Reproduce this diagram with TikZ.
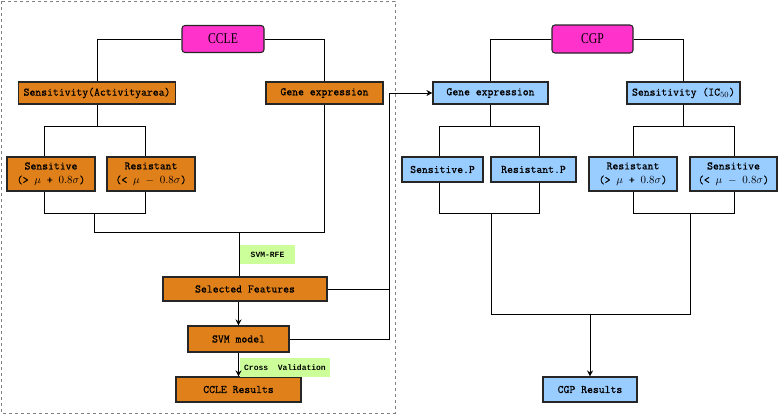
\documentclass[tikz,border=0pt]{standalone}
\usepackage{fontspec}
\setmainfont{Liberation Serif}
\newfontfamily\labfont{Liberation Mono}
\newfontfamily\boxfont{Latin Modern Mono}[FakeBold=0.7]
\usetikzlibrary{arrows.meta}
\definecolor{orangebox}{HTML}{E0801A}
\definecolor{bluebox}{HTML}{99CCFF}
\definecolor{magbox}{HTML}{FF33CC}
\definecolor{greenlab}{HTML}{CCFF99}
\tikzset{
  box/.style={draw=black!85, line width=1.1pt, inner sep=0pt, align=center,
    font=\boxfont\fontsize{11.4}{14}\selectfont},
  obox/.style={box, fill=orangebox},
  bbox/.style={box, fill=bluebox},
  top/.style={draw=black!85, line width=1.1pt, fill=magbox, rounded corners=3pt, inner sep=0pt,
    font=\fontsize{13}{15}\selectfont},
  lab/.style={fill=greenlab, inner sep=0pt, font=\labfont\bfseries\fontsize{8}{9}\selectfont},
  conn/.style={draw=black, line width=1pt},
  arr/.style={conn, -{Stealth[length=6pt,width=6pt]}},
}
\begin{document}
\begin{tikzpicture}[x=1pt,y=-1pt]
\useasboundingbox (0,0) rectangle (778,415);
\draw[gray, dashed, line width=1pt] (1,1) rectangle (395,413);
% ---------- CCLE side ----------
\node[top, minimum width=82pt, minimum height=27pt] (ccle) at (223,39) {\scalebox{0.9}[1.15]{CCLE}};
\node[obox, minimum width=157pt, minimum height=22pt] (sensA) at (97,93) {Sensitivity(Activityarea)};
\node[obox, minimum width=117pt, minimum height=22pt] (geneA) at (324.5,93) {Gene expression};
\node[obox, minimum width=88pt, minimum height=34pt] (sens1) at (51,174) {Sensitive\\(>\ $\mu$\ +\ $0.8\sigma$)};
\node[obox, minimum width=88pt, minimum height=34pt] (res1) at (151,174) {Resistant\\(<\ $\mu$\ $-$\ $0.8\sigma$)};
\node[obox, minimum width=164pt, minimum height=24pt] (sel) at (245,289) {Selected Features};
\node[obox, minimum width=101pt, minimum height=26pt] (svm) at (238.5,339) {SVM model};
\node[obox, minimum width=125pt, minimum height=25pt] (cres) at (238.5,389.5) {CCLE Results};
\node[lab, minimum width=55pt, minimum height=19pt] (rfe) at (267.5,254.5) {SVM-RFE};
\node[lab, minimum width=90pt, minimum height=19pt] (cv) at (285,367.5) {Cross\ \ Validation};

\draw[conn] (ccle.west) -| (sensA.north);
\draw[conn] (ccle.east) -| (geneA.north);
\coordinate (a1) at (44,126);
\coordinate (a2) at (145,126);
\coordinate (a3) at (44,213);
\coordinate (a4) at (145,213);
\coordinate (a5) at (94,213);
\coordinate (m) at (239,232);
\draw[conn] (sensA.south) -- (sensA.south |- a1);
\draw[conn] (a1 |- sens1.north) -- (a1) -- (a2) -- (a2 |- res1.north);
\draw[conn] (a3 |- sens1.south) -- (a3) -- (a4) -- (a4 |- res1.south);
\draw[conn] (a5) -- (a5 |- m) -- (geneA.south |- m) -- (geneA.south);
\draw[conn] (m) -- (m |- sel.north);
\draw[arr] (sel.south -| svm.north) -- (svm.north);
\draw[arr] (svm.south) -- (cres.north);
% link to CGP
\coordinate (r1) at (389,93);
\draw[conn] (sel.east) -- (sel.east -| r1);
% ---------- CGP side ----------
\node[top, minimum width=81pt, minimum height=28pt] (cgp) at (592.5,39) {\scalebox{0.9}[1.15]{CGP}};
\node[bbox, minimum width=115pt, minimum height=22pt] (geneB) at (490.5,93) {Gene expression};
\node[bbox, minimum width=113pt, minimum height=22pt] (sensB) at (683.5,93) {Sensitivity (IC$_{50}$)};
\node[bbox, minimum width=81pt, minimum height=25pt] (sp) at (442.5,169.5) {Sensitive.P};
\node[bbox, minimum width=85pt, minimum height=25pt] (rp) at (533.5,169.5) {Resistant.P};
\node[bbox, minimum width=88pt, minimum height=34pt] (rr) at (633,174) {Resistant\\(>\ $\mu$\ +\ $0.8\sigma$)};
\node[bbox, minimum width=87pt, minimum height=34pt] (ss) at (733.5,174) {Sensitive\\(<\ $\mu$\ $-$\ $0.8\sigma$)};
\node[bbox, minimum width=94pt, minimum height=25pt] (gres) at (590,389.5) {CGP Results};

\draw[arr] (svm.east) -| (r1) -- (geneB.west);

\draw[conn] (cgp.west) -| (geneB.north);
\draw[conn] (cgp.east) -| (sensB.north);
\coordinate (b1) at (439,126);
\coordinate (b2) at (539,126);
\coordinate (b3) at (633,126);
\coordinate (b4) at (734,126);
\coordinate (c1) at (439,213);
\coordinate (c2) at (539,213);
\coordinate (c3) at (633,213);
\coordinate (c4) at (734,213);
\coordinate (d1) at (491,213);
\coordinate (d2) at (690,213);
\coordinate (n) at (590,314);
\draw[conn] (geneB.south) -- (geneB.south |- b1);
\draw[conn] (sensB.south) -- (sensB.south |- b3);
\draw[conn] (b1 |- sp.north) -- (b1) -- (b2) -- (b2 |- rp.north);
\draw[conn] (b3 |- rr.north) -- (b3) -- (b4) -- (b4 |- ss.north);
\draw[conn] (c1 |- sp.south) -- (c1) -- (c2) -- (c2 |- rp.south);
\draw[conn] (c3 |- rr.south) -- (c3) -- (c4) -- (c4 |- ss.south);
\draw[conn] (d1) -- (d1 |- n) -- (d2 |- n) -- (d2);
\draw[arr] (n) -- (gres.north);
\end{tikzpicture}
\end{document}
